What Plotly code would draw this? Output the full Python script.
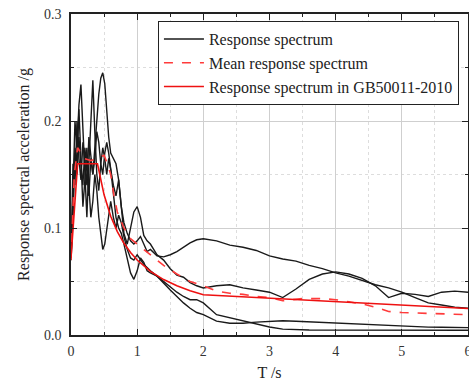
import plotly.graph_objects as go

period = [0, 0.03, 0.06, 0.09, 0.12, 0.15, 0.18, 0.21, 0.24, 0.27, 0.30, 0.33, 0.36, 0.39, 0.42,
          0.45, 0.48, 0.51, 0.54, 0.57, 0.60, 0.64, 0.68, 0.72, 0.76, 0.80, 0.85, 0.90, 0.95, 1.00,
          1.05, 1.10, 1.15, 1.20, 1.30, 1.40, 1.50, 1.60, 1.70, 1.80, 1.90, 2.00, 2.20, 2.40, 2.60,
          2.80, 3.00, 3.20, 3.40, 3.60, 3.80, 4.00, 4.20, 4.40, 4.60, 4.80, 5.00, 5.20, 5.40, 5.60,
          5.80, 6.00]

record_a = [0.070, 0.120, 0.170, 0.150, 0.185, 0.160, 0.140, 0.175, 0.150, 0.130, 0.165, 0.150, 0.175,
            0.200, 0.225, 0.240, 0.245, 0.235, 0.205, 0.185, 0.170, 0.165, 0.160, 0.145, 0.120, 0.105,
            0.095, 0.088, 0.085, 0.088, 0.092, 0.085, 0.078, 0.080, 0.074, 0.073, 0.075, 0.078, 0.082,
            0.086, 0.089, 0.090, 0.088, 0.084, 0.082, 0.079, 0.074, 0.071, 0.069, 0.065, 0.062, 0.058,
            0.055, 0.051, 0.047, 0.044, 0.040, 0.035, 0.030, 0.028, 0.026, 0.025]

record_b = [0.070, 0.150, 0.200, 0.175, 0.215, 0.234, 0.190, 0.150, 0.110, 0.160, 0.200, 0.238, 0.190,
            0.150, 0.135, 0.160, 0.175, 0.165, 0.150, 0.165, 0.155, 0.140, 0.130, 0.145, 0.120, 0.095,
            0.085, 0.100, 0.115, 0.120, 0.110, 0.093, 0.088, 0.085, 0.075, 0.070, 0.062, 0.056, 0.054,
            0.049, 0.046, 0.044, 0.046, 0.047, 0.044, 0.042, 0.040, 0.035, 0.043, 0.052, 0.057, 0.059,
            0.057, 0.053, 0.046, 0.035, 0.039, 0.038, 0.036, 0.040, 0.041, 0.040]

record_c = [0.070, 0.110, 0.175, 0.160, 0.211, 0.170, 0.120, 0.145, 0.175, 0.140, 0.110, 0.125, 0.150,
            0.135, 0.110, 0.095, 0.080, 0.085, 0.100, 0.115, 0.125, 0.110, 0.100, 0.112, 0.105, 0.092,
            0.080, 0.072, 0.070, 0.075, 0.070, 0.066, 0.063, 0.060, 0.055, 0.050, 0.045, 0.040, 0.036,
            0.033, 0.033, 0.030, 0.019, 0.016, 0.013, 0.010, 0.0075, 0.0055, 0.0048, 0.0047, 0.0046,
            0.0046, 0.0046, 0.0046, 0.0045, 0.0045, 0.0045, 0.0045, 0.0044, 0.0044, 0.0044, 0.0044]

record_d = [0.070, 0.160, 0.140, 0.200, 0.165, 0.145, 0.180, 0.160, 0.140, 0.185, 0.170, 0.150, 0.165,
            0.190, 0.180, 0.160, 0.150, 0.170, 0.180, 0.170, 0.155, 0.130, 0.110, 0.100, 0.095, 0.085,
            0.070, 0.058, 0.052, 0.060, 0.072, 0.068, 0.060, 0.058, 0.055, 0.048, 0.042, 0.036, 0.030,
            0.025, 0.021, 0.019, 0.013, 0.011, 0.011, 0.012, 0.0125, 0.0133, 0.0128, 0.0122, 0.0118,
            0.0115, 0.0108, 0.0100, 0.0094, 0.0088, 0.0080, 0.0077, 0.0074, 0.0072, 0.0070, 0.0069]

mean_period = [0, 0.05, 0.1, 0.15, 0.2, 0.3, 0.4, 0.5, 0.55, 0.6, 0.65, 0.7, 0.8, 0.9, 1.0, 1.1, 1.2,
               1.4, 1.6, 1.8, 2.0, 2.2, 2.4, 2.6, 2.8, 3.0, 3.2, 3.5, 3.8, 4.0, 4.2, 4.4, 4.6, 4.8,
               5.0, 5.4, 6.0]
mean_sa = [0.070, 0.150, 0.175, 0.170, 0.165, 0.163, 0.165, 0.168, 0.160, 0.150, 0.130, 0.115, 0.100,
           0.090, 0.085, 0.080, 0.075, 0.065, 0.057, 0.050, 0.046, 0.041, 0.039, 0.038, 0.036, 0.035,
           0.032, 0.034, 0.034, 0.033, 0.031, 0.029, 0.026, 0.022, 0.021, 0.020, 0.019]

code_period = [0, 0.1, 0.4, 0.5, 0.6, 0.7, 0.8, 0.9, 1.0, 1.2, 1.4, 1.6, 1.8, 2.0, 6.0]
code_sa = [0.072, 0.160, 0.160, 0.131, 0.111, 0.0967, 0.0857, 0.0771, 0.0701, 0.0595, 0.0518,
           0.0460, 0.0413, 0.0376, 0.0248]

records = [record_a, record_b, record_c, record_d]

fig = go.Figure()
for i, rec in enumerate(records):
    fig.add_trace(go.Scatter(x=period, y=rec, mode="lines", name="Response spectrum",
                             line=dict(color="#1a1a1a", width=1.4), showlegend=(i == 0)))
fig.add_trace(go.Scatter(x=mean_period, y=mean_sa, mode="lines", name="Mean response spectrum",
                         line=dict(color="#ff3b3b", width=1.6, dash="dash")))
fig.add_trace(go.Scatter(x=code_period, y=code_sa, mode="lines", name="Response spectrum in GB50011-2010",
                         line=dict(color="#ee1111", width=1.6)))

serif = "Liberation Serif, Times New Roman, serif"
axis_common = dict(
    showline=True, linecolor="#222", linewidth=1.5, mirror="allticks",
    ticks="inside", ticklen=6, tickcolor="#222", tickwidth=1.2,
    showgrid=True, gridcolor="#cfcfcf", gridwidth=1, zeroline=False,
    tickfont=dict(family=serif, size=14, color="#333"), automargin=False,
    ticklabeloverflow="allow",
)

fig.update_xaxes(range=[0, 6], dtick=1, tick0=0, ticklabelstandoff=2,
                 title=dict(text="T /s", font=dict(family=serif, size=16, color="#222"), standoff=9),
                 minor=dict(dtick=0.5, ticks="inside", ticklen=3, tickcolor="#222", showgrid=True,
                            gridcolor="#dddddd", griddash="dot"),
                 **axis_common)
fig.update_yaxes(range=[0, 0.3], dtick=0.1, tick0=0, tickformat=".1f", ticklabelstandoff=5,
                 title=dict(text="Response spectral acceleration /g",
                            font=dict(family=serif, size=16, color="#222"), standoff=10),
                 minor=dict(dtick=0.05, ticks="inside", ticklen=3, tickcolor="#222", showgrid=True,
                            gridcolor="#dddddd", griddash="dot"),
                 **axis_common)

fig.update_layout(
    width=469, height=381,
    margin=dict(l=71, r=1, t=14, b=46, autoexpand=False),
    plot_bgcolor="white", paper_bgcolor="white",
    font=dict(family=serif, color="#222"),
    legend=dict(x=0.219, y=0.978, xanchor="left", yanchor="top",
                bgcolor="white", bordercolor="#222", borderwidth=1,
                font=dict(family=serif, size=16, color="#222"),
                itemwidth=40, tracegroupgap=0),
)

fig.write_html("out.html", config={"displayModeBar": False},
               post_script="document.body.style.margin='0';document.body.style.overflow='hidden';")
